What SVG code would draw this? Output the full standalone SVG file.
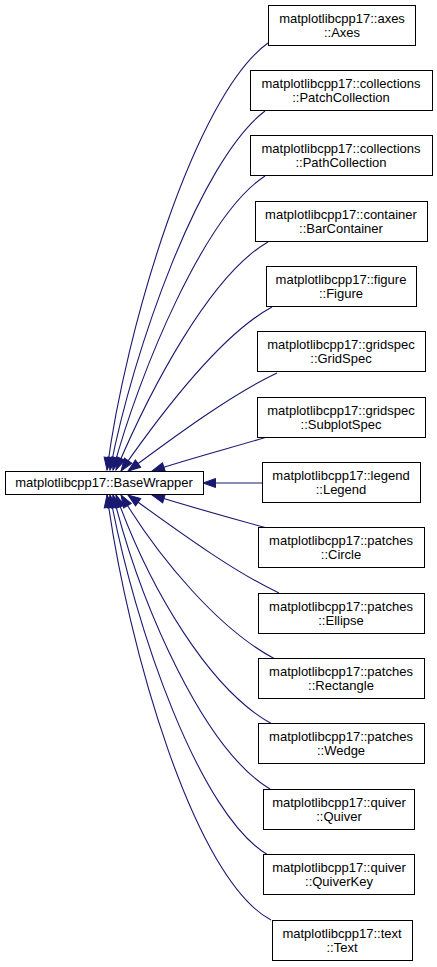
<svg xmlns="http://www.w3.org/2000/svg" width="437" height="967" viewBox="0 0 437 967">
<style>
.box{fill:#ffffff;stroke:#000000;stroke-width:1}
.lbl{font-family:"Liberation Sans",Arial,sans-serif;font-size:13px;fill:#000000;text-anchor:middle}
.edge{fill:none;stroke:#191970;stroke-width:1.1;marker-end:url(#ah)}
</style>
<defs>
<marker id="ah" markerUnits="userSpaceOnUse" markerWidth="15" markerHeight="11" refX="13.5" refY="5" orient="auto" overflow="visible">
<path d="M1,0.5 L13.5,5 L1,9.5 z" fill="#191970" stroke="#191970" stroke-width="1"/>
</marker>
</defs>
<rect width="437" height="967" fill="#ffffff"/>
<g id="connectors">
<path class="edge" d="M268,43 C195,95 125,330 107,470"/>
<path class="edge" d="M265,111 C200,160 133,350 110,470"/>
<path class="edge" d="M265,176 C205,215 140,370 113,470"/>
<path class="edge" d="M268,242 C210,275 150,390 116,470"/>
<path class="edge" d="M272,307 C220,335 160,415 121,471"/>
<path class="edge" d="M277,373 C230,395 170,440 128,471"/>
<path class="edge" d="M267,437 C230,448 185,460 152,471"/>
<path class="edge" d="M262,483 L203,483"/>
<path class="edge" d="M267,528 C230,518 185,505 152,495"/>
<path class="edge" d="M279,593 C230,570 170,525 128,495"/>
<path class="edge" d="M275,659 C220,630 160,560 121,495"/>
<path class="edge" d="M272,724 C210,690 150,590 116,495"/>
<path class="edge" d="M270,789 C205,750 142,610 113,495"/>
<path class="edge" d="M268,855 C200,815 135,630 110,495"/>
<path class="edge" d="M271,920 C195,880 128,650 107,495"/>
</g>
<g id="BaseWrapper"><rect class="box" x="5.5" y="471.5" width="198" height="23"/><text class="lbl" x="104" y="487">matplotlibcpp17::BaseWrapper</text></g>
<g id="Axes"><rect class="box" x="268.5" y="5.5" width="147" height="40"/><text class="lbl" x="342" y="23">matplotlibcpp17::axes</text><text class="lbl" x="342" y="37">::Axes</text></g>
<g id="PatchCollection"><rect class="box" x="250.5" y="70.5" width="182" height="40"/><text class="lbl" x="341" y="88">matplotlibcpp17::collections</text><text class="lbl" x="341" y="102">::PatchCollection</text></g>
<g id="PathCollection"><rect class="box" x="250.5" y="135.5" width="182" height="40"/><text class="lbl" x="341" y="153">matplotlibcpp17::collections</text><text class="lbl" x="341" y="167">::PathCollection</text></g>
<g id="BarContainer"><rect class="box" x="255.5" y="201.5" width="172" height="40"/><text class="lbl" x="341" y="219">matplotlibcpp17::container</text><text class="lbl" x="341" y="233">::BarContainer</text></g>
<g id="Figure"><rect class="box" x="266.5" y="266.5" width="150" height="40"/><text class="lbl" x="341" y="284">matplotlibcpp17::figure</text><text class="lbl" x="341" y="298">::Figure</text></g>
<g id="GridSpec"><rect class="box" x="257.5" y="331.5" width="168" height="40"/><text class="lbl" x="341" y="349">matplotlibcpp17::gridspec</text><text class="lbl" x="341" y="363">::GridSpec</text></g>
<g id="SubplotSpec"><rect class="box" x="257.5" y="397.5" width="168" height="40"/><text class="lbl" x="341" y="415">matplotlibcpp17::gridspec</text><text class="lbl" x="341" y="429">::SubplotSpec</text></g>
<g id="Legend"><rect class="box" x="262.5" y="462.5" width="158" height="40"/><text class="lbl" x="341" y="480">matplotlibcpp17::legend</text><text class="lbl" x="341" y="494">::Legend</text></g>
<g id="Circle"><rect class="box" x="258.5" y="527.5" width="166" height="40"/><text class="lbl" x="341" y="545">matplotlibcpp17::patches</text><text class="lbl" x="341" y="559">::Circle</text></g>
<g id="Ellipse"><rect class="box" x="258.5" y="593.5" width="166" height="40"/><text class="lbl" x="341" y="611">matplotlibcpp17::patches</text><text class="lbl" x="341" y="625">::Ellipse</text></g>
<g id="Rectangle"><rect class="box" x="258.5" y="658.5" width="166" height="40"/><text class="lbl" x="341" y="676">matplotlibcpp17::patches</text><text class="lbl" x="341" y="690">::Rectangle</text></g>
<g id="Wedge"><rect class="box" x="258.5" y="723.5" width="166" height="40"/><text class="lbl" x="341" y="741">matplotlibcpp17::patches</text><text class="lbl" x="341" y="755">::Wedge</text></g>
<g id="Quiver"><rect class="box" x="263.5" y="789.5" width="151" height="40"/><text class="lbl" x="339" y="807">matplotlibcpp17::quiver</text><text class="lbl" x="339" y="821">::Quiver</text></g>
<g id="QuiverKey"><rect class="box" x="263.5" y="854.5" width="151" height="40"/><text class="lbl" x="339" y="872">matplotlibcpp17::quiver</text><text class="lbl" x="339" y="886">::QuiverKey</text></g>
<g id="Text"><rect class="box" x="272.5" y="920.5" width="140" height="40"/><text class="lbl" x="342" y="938">matplotlibcpp17::text</text><text class="lbl" x="342" y="952">::Text</text></g>
</svg>
